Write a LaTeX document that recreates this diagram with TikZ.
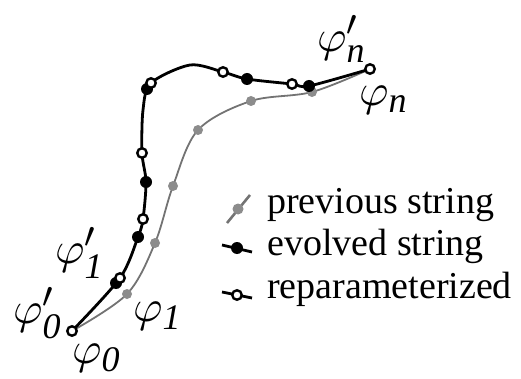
\documentclass[tikz,border=0pt]{standalone}
\usepackage{fontspec}
\setmainfont{Liberation Serif}
\DeclareMathSizes{10}{10}{8}{6}
\definecolor{prevline}{gray}{0.45}
\definecolor{prevdot}{gray}{0.55}
\begin{document}
\begin{tikzpicture}[x=1pt,y=-1pt,
  evo/.style={circle,fill=black,inner sep=0pt,minimum size=12pt},
  rep/.style={circle,draw=black,line width=2.4pt,fill=white,inner sep=0pt,minimum size=9.5pt},
  prv/.style={circle,fill=prevdot,inner sep=0pt,minimum size=10pt},
  evoline/.style={line width=2.8pt,black},
  prvline/.style={line width=1.8pt,prevline},
  lab/.style={scale=4.5,inner sep=0pt},
  leg/.style={font=\fontsize{38}{38}\selectfont,anchor=base west,inner sep=0pt}]
\useasboundingbox (0,0) rectangle (521,379);
% coordinates of the evolved / reparameterized string
\coordinate (s0) at (72,331);
\coordinate (e1) at (116,283);
\coordinate (r1) at (120,278);
\coordinate (e2) at (138,237);
\coordinate (r2) at (143,219);
\coordinate (e3) at (146,182);
\coordinate (r3) at (142,153);
\coordinate (c1) at (143,110);
\coordinate (e4) at (147,89);
\coordinate (r4) at (151,83);
\coordinate (c2) at (190,65);
\coordinate (r5) at (223,72);
\coordinate (e5) at (247,79);
\coordinate (r6) at (292,84);
\coordinate (e6) at (309,86);
\coordinate (sn) at (370,69);
% previous string
\coordinate (p1) at (127,294);
\coordinate (p2) at (155,243);
\coordinate (p3) at (173,186);
\coordinate (p4) at (198,130);
\coordinate (p5) at (251,101);
\coordinate (p6) at (312,92);
% curves
\draw[prvline] plot[smooth,tension=0.55] coordinates {(s0) (p1) (p2) (p3) (p4) (p5) (p6) (sn)};
\draw[evoline] plot[smooth,tension=0.5] coordinates {(s0) (r1) (e2) (r2) (e3) (r3) (c1) (r4) (c2) (r5) (e5) (r6) (e6) (sn)};
% markers
\foreach \p in {p1,p2,p3,p4,p5,p6} \node[prv] (m\p) at (\p) {};
\foreach \p in {e1,e2,e3,e4,e5,e6} \node[evo] (m\p) at (\p) {};
\foreach \p in {s0,r1,r2,r3,r4,r5,r6,sn} \node[rep] (m\p) at (\p) {};
% labels
\node[lab] (ln1) at (342,39) {$\varphi'_{\mathit{n}}$};
\node[lab] (ln0) at (384,100) {$\varphi_{\mathit{n}}$};
\node[lab] (l11) at (80,253) {$\varphi'_{\mathit{1}}$};
\node[lab] (l01) at (38,313) {$\varphi'_{\mathit{0}}$};
\node[lab] (l10) at (158,316) {$\varphi_{\mathit{1}}$};
\node[lab] (l00) at (97,358) {$\varphi_{\mathit{0}}$};
% legend
\coordinate (a1) at (227,223); \coordinate (a2) at (250,195);
\draw[line width=2.6pt,prevline] (a1) -- (a2);
\node[prv,minimum size=11pt] (ka) at (238,209) {};
\coordinate (b1) at (222,245); \coordinate (b2) at (252,252);
\draw[line width=2.8pt] (b1) -- (b2);
\node[evo] (kb) at (237,248) {};
\coordinate (d1) at (222,292); \coordinate (d2) at (252,298);
\draw[line width=2.8pt] (d1) -- (d2);
\node[rep] (kd) at (237,295) {};
\node[leg] (ta) at (267,213) {previous string};
\node[leg] (tb) at (267,255) {evolved string};
\node[leg] (td) at (267,298) {reparameterized};
\end{tikzpicture}
\end{document}
